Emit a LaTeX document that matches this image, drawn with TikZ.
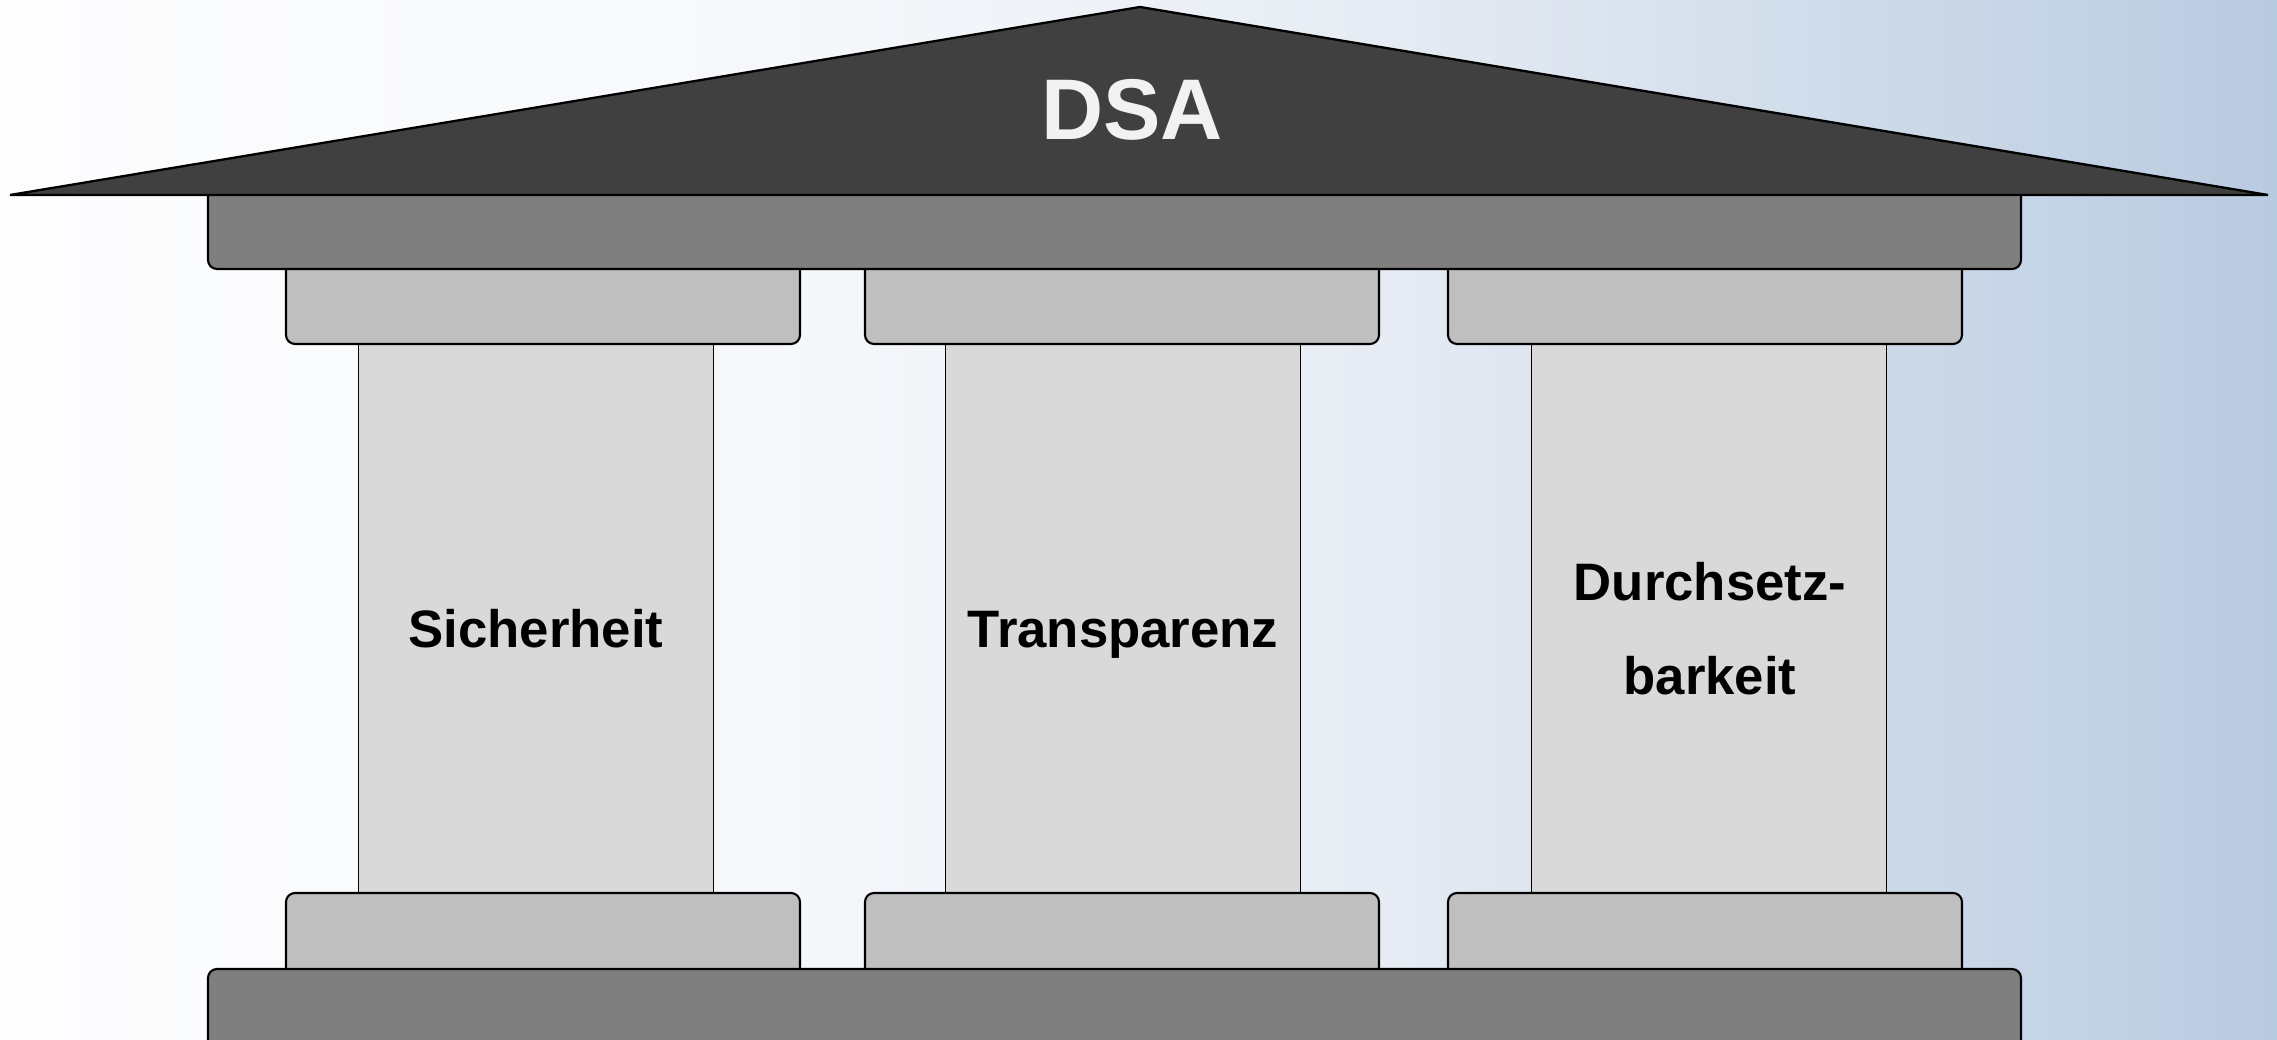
\documentclass[tikz,border=0pt]{standalone}
\usepackage{fontspec}
\setmainfont{Liberation Sans}
\usetikzlibrary{positioning}

\definecolor{roofgray}{HTML}{404040}
\definecolor{beamgray}{HTML}{7F7F7F}
\definecolor{capgray}{HTML}{BFBFBF}
\definecolor{shaftgray}{HTML}{D9D9D9}
\definecolor{dsawhite}{HTML}{F2F2F2}
\definecolor{bgA}{HTML}{FDFDFE}
\definecolor{bgB}{HTML}{F6F8FB}
\definecolor{bgC}{HTML}{E7ECF4}
\definecolor{bgD}{HTML}{D0DCEA}
\definecolor{bgE}{HTML}{B9CBE1}

\pgfdeclarehorizontalshading{bgshade}{100bp}{color(0bp)=(bgA); color(25bp)=(bgA); color(42bp)=(bgB); color(55bp)=(bgC); color(65bp)=(bgD); color(75bp)=(bgE); color(100bp)=(bgE)}

\tikzset{
    roof/.style={fill=roofgray, draw=black, line width=0.65pt},
    beam/.style={fill=beamgray, draw=black, line width=0.6pt, rounded corners=0.09cm, inner sep=0pt, minimum width=18.13cm},
    capital/.style={fill=capgray, draw=black, line width=0.6pt, rounded corners=0.09cm, inner sep=0pt, minimum width=5.14cm},
    shaft/.style={fill=shaftgray, draw=black, line width=0.55pt, inner sep=0pt, minimum width=3.55cm, minimum height=5.49cm},
    pillartext/.style={font=\fontsize{15}{26.7}\selectfont\bfseries, text=black, align=center},
}

\begin{document}
\begin{tikzpicture}
                \useasboundingbox (0,0) rectangle (22.77,10.40);
                \clip (0,0) rectangle (22.77,10.40);

                % background
                \shade[shading=bgshade] (0,0) rectangle (22.77,10.40);

                % pillars
                \node[shaft] (shaftA) at (5.36,4.215) {};
                \node[shaft] (shaftB) at (11.23,4.215) {};
                \node[shaft] (shaftC) at (17.09,4.215) {};

                % capitals, top hidden under the beam
                \node[capital, minimum height=0.95cm] (capA) at (5.43,7.435) {};
                \node[capital, minimum height=0.95cm] (capB) at (11.22,7.435) {};
                \node[capital, minimum height=0.95cm] (capC) at (17.05,7.435) {};

                % plinths, bottom hidden under the floor
                \node[capital, minimum height=0.97cm] (plinthA) at (5.43,0.985) {};
                \node[capital, minimum height=0.97cm] (plinthB) at (11.22,0.985) {};
                \node[capital, minimum height=0.97cm] (plinthC) at (17.05,0.985) {};

                % beam and floor
                \node[beam, minimum height=0.94cm] (topbeam) at (11.145,8.18) {};
                \node[beam, minimum height=1.01cm] (floor) at (11.145,0.205) {};

                % roof
                \coordinate (eaveL) at (0.10,8.45);
                \coordinate (apex) at (11.40,10.33);
                \coordinate (eaveR) at (22.68,8.45);
                \draw[roof] (eaveL) -- (apex) -- (eaveR) -- cycle;
                \node[anchor=base, text=dsawhite, font=\fontsize{24.5}{28}\selectfont\bfseries] (dsa) at (11.32,9.00) {DSA};

                \node[pillartext, anchor=base] (sicherheit) at (shaftA.center |- 0,3.925) {Sicherheit};
                \node[pillartext, anchor=base] (transparenz) at (shaftB.center |- 0,3.925) {Transparenz};
                \node[pillartext] (durchsetz) at (17.10,4.11) {Durchsetz-\\barkeit};
\end{tikzpicture}
\end{document}
